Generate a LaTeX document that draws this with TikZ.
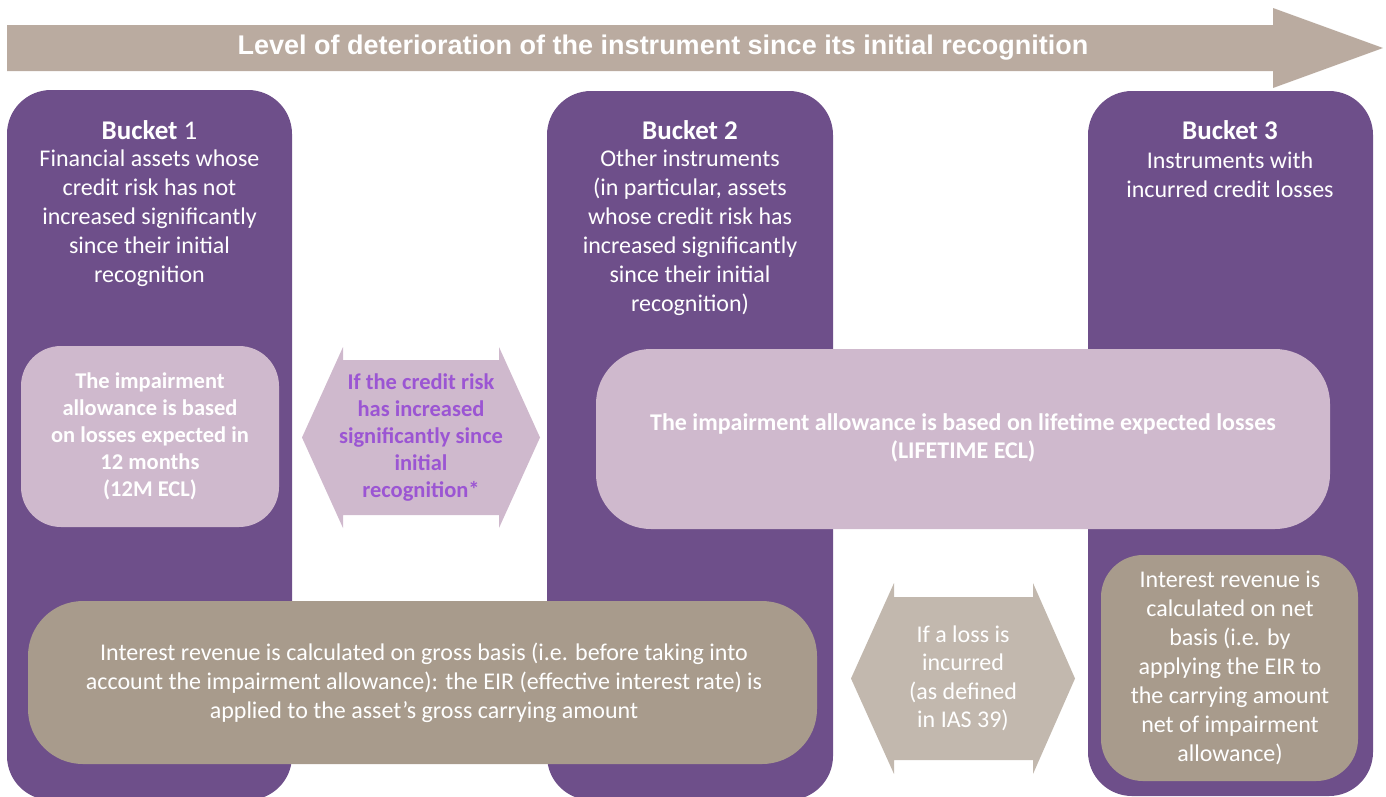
\documentclass[tikz,border=0pt]{standalone}
\usepackage{fontspec}
\setmainfont{Carlito}
\newfontfamily\arialfont{Liberation Sans}
\definecolor{bpurple}{HTML}{6E4F8A}
\definecolor{lilac}{HTML}{CFB9CD}
\definecolor{taupe}{HTML}{A89B8C}
\definecolor{ltaupe}{HTML}{C2B8AE}
\definecolor{arrowc}{HTML}{BAABA0}
\definecolor{ptext}{HTML}{9B55D3}
\begin{document}
\begin{tikzpicture}[x=1pt,y=-1pt,
  bucketbox/.style={fill=bpurple, rounded corners=44pt},
  hdr/.style={text=white, font=\fontsize{27}{30}\selectfont\bfseries, inner sep=0pt},
  body/.style={text=white, align=center, font=\fontsize{24}{29}\selectfont, inner sep=0pt},
  boldbody/.style={text=white, align=center, font=\fontsize{22.5}{27}\selectfont\bfseries, inner sep=0pt},
]
\useasboundingbox (0,0) rectangle (1386,796);
\clip (0,0) rectangle (1386,796);

% top arrow
\fill[arrowc] (7,25) -- (1273,25) -- (1273,8) -- (1383,48) -- (1273,88) -- (1273,71) -- (7,71) -- cycle;
\node[text=white, font=\arialfont\fontsize{27}{30}\selectfont\bfseries, inner sep=0pt] (title) at (663,48)
  {Level of deterioration of the instrument since its initial recognition};

% buckets
\fill[bucketbox] (7,90) rectangle (292,800);
\fill[bucketbox] (547,91) rectangle (833,800);
\fill[bucketbox] (1088,91) rectangle (1373,796);

\node[hdr] (h1) at (149.5,130) {Bucket \mdseries 1};
\node[hdr] (h2) at (690,130) {Bucket 2};
\node[hdr] (h3) at (1230,130) {Bucket 3};

\node[body] (t1) at (149.5,218) {Financial assets whose\\credit risk has not\\increased significantly\\since their initial\\recognition};
\node[body] (t2) at (690,232.5) {Other instruments\\(in particular, assets\\whose credit risk has\\increased significantly\\since their initial\\recognition)};
\node[body] (t3) at (1230,174.5) {Instruments with\\incurred credit losses};

% 12 month box
\fill[lilac, rounded corners=40pt] (21,346) rectangle (279,527);
\node[boldbody] (m12) at (150,436) {The impairment\\allowance is based\\on losses expected in\\12 months\\(12M ECL)};

% double arrow 1
\fill[lilac] (302,437.5) -- (343,347) -- (343,360) -- (499,360) -- (499,347) -- (540,437.5)
  -- (499,528) -- (499,515) -- (343,515) -- (343,528) -- cycle;
\node[boldbody, text=ptext] (a1) at (421,437.5) {If the credit risk\\has increased\\significantly since\\initial\\recognition*};

% lifetime box
\fill[lilac, rounded corners=55pt] (596,349) rectangle (1330,529);
\node[boldbody, font=\fontsize{24}{28}\selectfont\bfseries] (life) at (963,438) {The impairment allowance is based on lifetime expected losses\\(LIFETIME ECL)};

% gross box
\fill[taupe, rounded corners=55pt] (28,601) rectangle (817,764);
\node[body] (gross) at (424,683) {Interest revenue is calculated on gross basis (i.e. before taking into\\account the impairment allowance): the EIR (effective interest rate) is\\applied to the asset’s gross carrying amount};

% double arrow 2
\fill[ltaupe] (851,678.5) -- (894,583) -- (894,597) -- (1033,597) -- (1033,583) -- (1075,678.5)
  -- (1033,774) -- (1033,760) -- (894,760) -- (894,774) -- cycle;
\node[body, font=\fontsize{24}{28.5}\selectfont] (a2) at (963,678.5) {If a loss is\\incurred\\(as defined\\in IAS 39)};

% net box
\fill[taupe, rounded corners=42pt] (1101,555) rectangle (1358,781);
\node[body] (net) at (1230,668) {Interest revenue is\\calculated on net\\basis (i.e. by\\applying the EIR to\\the carrying amount\\net of impairment\\allowance)};
\end{tikzpicture}
\end{document}
